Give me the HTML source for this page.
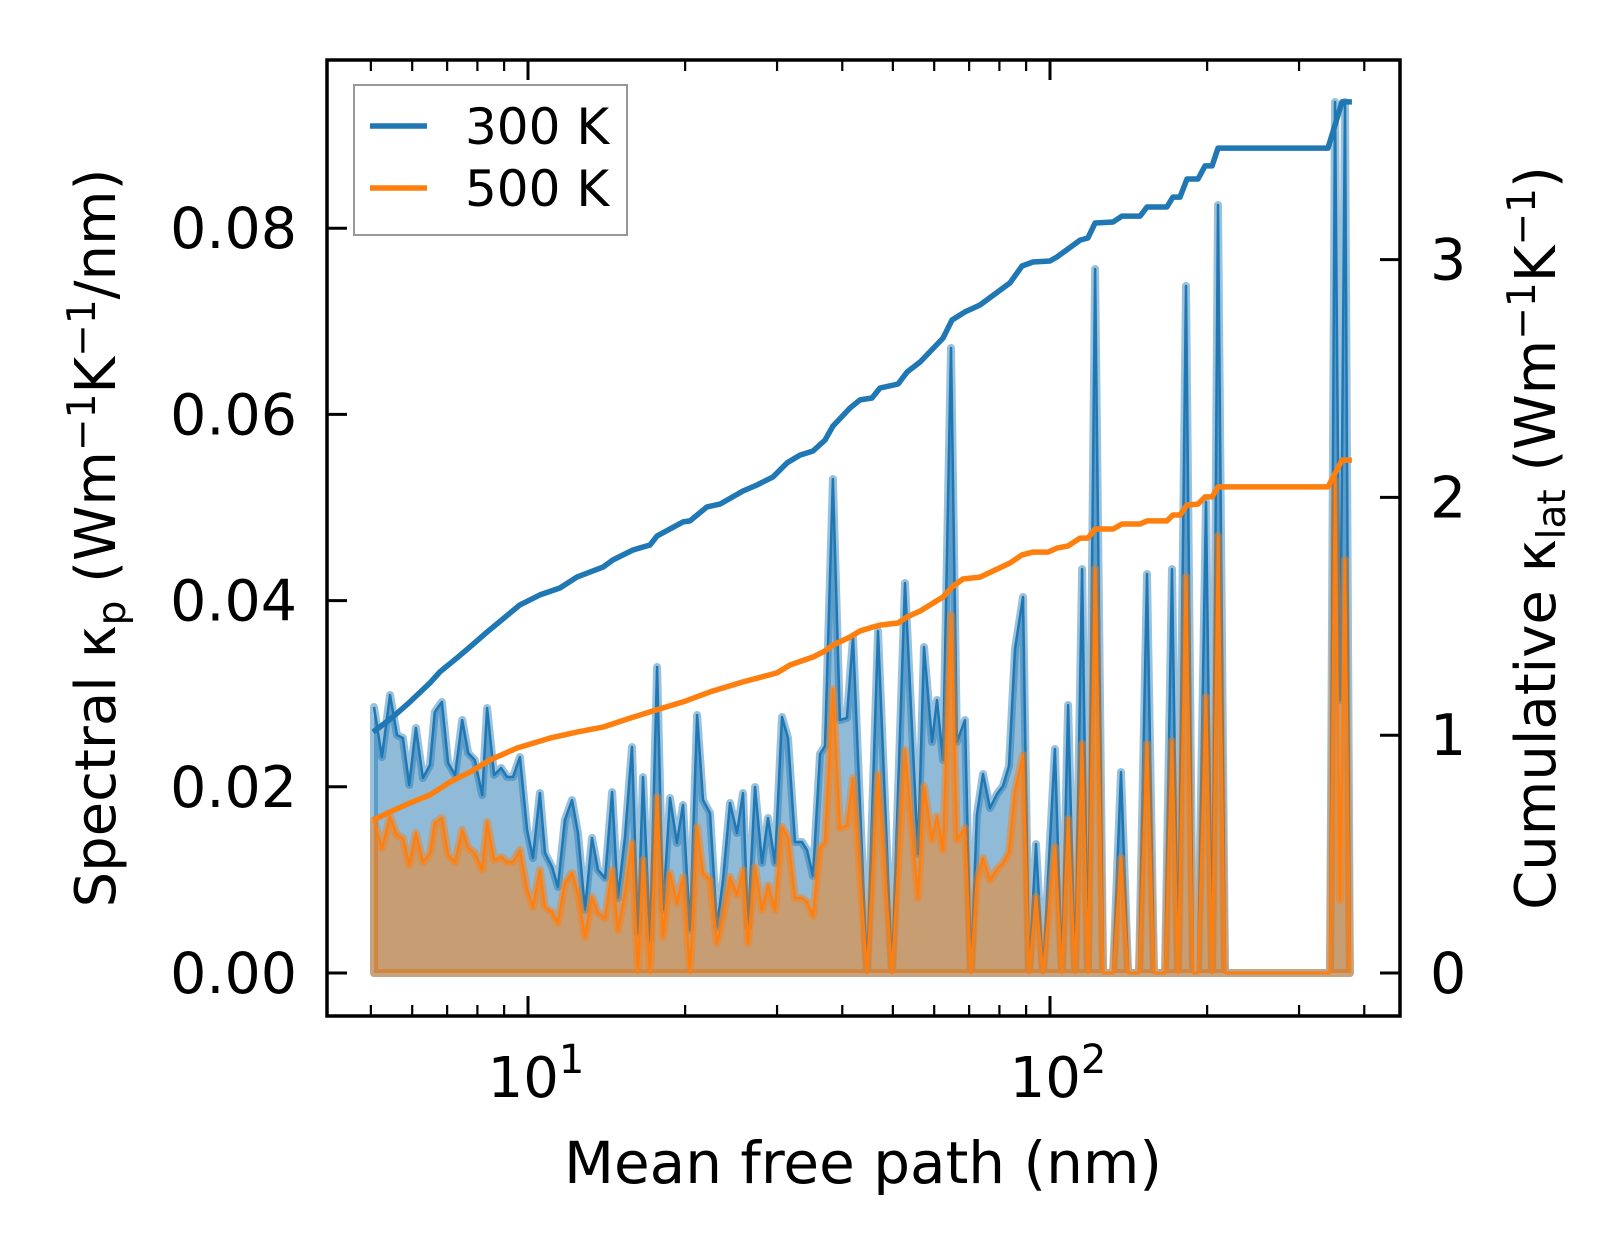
<!DOCTYPE html>
<html><head><meta charset="utf-8"><style>
html,body{margin:0;padding:0;background:#fff;}
svg{display:block;}
text{font-family:"DejaVu Sans","Liberation Sans",sans-serif;fill:#000;}
</style></head><body>
<svg id="chart" width="1623" height="1254" viewBox="0 0 1623 1254" xmlns="http://www.w3.org/2000/svg">
<defs><clipPath id="clip"><rect x="327" y="60" width="1073" height="956"/></clipPath></defs>
<g id="plot" clip-path="url(#clip)"></g>
<g id="axes"></g>
</svg>
<script>
const mfp=[5.07,5.25,5.44,5.61,5.76,5.92,6.10,6.29,6.49,6.63,6.84,7.03,7.25,7.48,7.68,7.91,8.17,8.35,8.61,8.88,9.12,9.36,9.65,9.96,10.22,10.54,10.78,11.12,11.41,11.77,12.14,12.47,12.86,13.26,13.62,14.05,14.49,14.87,15.34,15.82,16.24,16.61,17.13,17.67,18.14,18.71,19.29,19.81,20.43,21.08,21.64,22.32,23.02,23.64,24.38,25.14,25.82,26.39,27.22,28.07,28.83,29.73,30.66,31.48,32.47,33.49,34.24,35.16,36.26,37.07,38.38,39.59,40.83,41.93,44.61,46.83,49.82,52.76,55.87,57.37,59.43,60.76,62.37,64.61,66.33,68.72,70.56,72.45,74.40,76.74,79.14,81.28,83.47,85.70,88.78,91.16,94.01,96.96,102.2,105.4,108.3,111.7,115.2,118.2,122.0,126.4,132.1,136.8,141.1,148.1,153.4,158.2,166.1,171.3,175.9,182.2,187.9,192.1,199.0,204.4,209.8,216.4,343.9,351.6,359.4,367.4,375.5];
const spec300=[0.02857,0.0232,0.02986,0.02556,0.02524,0.0202,0.02632,0.02095,0.02234,0.02803,0.02911,0.02256,0.02127,0.02718,0.02363,0.02288,0.01912,0.02846,0.02127,0.02202,0.02105,0.02105,0.0232,0.01536,0.01235,0.01933,0.01289,0.01139,0.00924,0.01643,0.01858,0.01504,0.00677,0.0145,0.01106,0.0102,0.01944,0.00806,0.01461,0.02427,0.0043,0.02105,0.00354,0.03287,0.00677,0.0188,0.01396,0.01805,0.00462,0.02771,0.01858,0.01719,0.00494,0.00999,0.01826,0.01504,0.01933,0.00494,0.01998,0.01182,0.01665,0.01182,0.0275,0.02524,0.01407,0.01407,0.01321,0.01042,0.02352,0.02438,0.05306,0.02718,0.02739,0.03609,0,0.03673,0,0.04189,0.01278,0.03502,0.02481,0.02932,0.02288,0.06713,0.02481,0.02718,0,0.01697,0.02137,0.01772,0.01923,0.02009,0.02223,0.0348,0.04039,0,0.01386,0,0.02406,0,0.02879,0,0.04339,0,0.07562,0,0,0.02159,0,0,0.04286,0,0,0.04339,0,0.07379,0,0,0.05059,0,0.08249,0,0,0.09356,0.02932,0.09356,0];
const spec500=[0.01643,0.01343,0.01676,0.01482,0.0145,0.0116,0.01504,0.01192,0.01289,0.01611,0.01665,0.01267,0.01192,0.01536,0.01343,0.01289,0.01106,0.01622,0.01214,0.01246,0.01192,0.01192,0.01321,0.00892,0.00709,0.01106,0.00709,0.00655,0.00537,0.00967,0.01074,0.00859,0.00387,0.00816,0.00644,0.00591,0.01106,0.00462,0.00859,0.01396,0,0.01214,0,0.0189,0.00387,0.01074,0.00752,0.01031,0,0.01568,0.01074,0.00999,0.00322,0.00602,0.01031,0.00838,0.01106,0.00322,0.01139,0.00677,0.00945,0.00677,0.01568,0.01461,0.00806,0.00806,0.00763,0.00612,0.01343,0.01407,0.0305,0.01557,0.01579,0.02095,0,0.02137,0,0.02395,0.00806,0.02009,0.01429,0.01686,0.01321,0.03845,0.01429,0.01557,0,0.00999,0.01235,0.00999,0.01117,0.01182,0.013,0.01955,0.02342,0,0.00816,0,0.01353,0,0.01654,0,0.0246,0,0.04339,0,0,0.01235,0,0,0.0246,0,0,0.02492,0,0.04254,0,0,0.02965,0,0.04694,0,0,0.05295,0.00784,0.04436,0];
const cumMfp300=[5.05,5.51,5.94,6.49,6.78,7.31,7.74,8.35,9.65,10.54,11.51,12.41,13.92,14.55,15.89,17.13,17.67,19.81,20.43,22.02,23.32,25.82,27.46,29.47,31.34,33.19,35.16,37.07,38.38,41.38,43.25,45.60,47.24,51.16,53.22,56.36,62.37,64.90,68.72,73.42,83.84,88.40,92.77,100,103.1,108.3,114.2,118.2,122.0,132.1,137.4,148.8,153.4,167.5,172.0,177.4,183.0,192.1,198.1,204.4,209.8,340.9,362.6,378.8];
const cum300=[1.013,1.077,1.140,1.220,1.266,1.325,1.371,1.434,1.548,1.590,1.619,1.665,1.707,1.737,1.779,1.800,1.838,1.897,1.901,1.960,1.972,2.027,2.052,2.086,2.145,2.178,2.195,2.241,2.300,2.376,2.410,2.418,2.460,2.477,2.527,2.569,2.670,2.746,2.780,2.809,2.902,2.973,2.990,2.994,3.011,3.045,3.082,3.091,3.154,3.158,3.183,3.183,3.221,3.221,3.263,3.263,3.339,3.339,3.394,3.394,3.469,3.469,3.663,3.663];
const cumMfp500=[5.05,5.44,5.94,6.49,7.09,7.74,8.46,9.53,11.02,12.41,13.92,15.69,17.13,19.81,22.32,25.82,29.99,31.76,35.16,37.07,38.38,41.38,43.25,45.80,47.24,51.16,53.22,56.36,62.37,64.90,68.11,73.42,83.84,88.40,92.77,99.1,103.1,108.3,114.2,118.2,122.0,132.1,137.4,148.8,153.4,167.5,172.0,177.4,183.0,192.1,198.1,204.4,209.8,340.9,362.6,378.8];
const cum500=[0.643,0.677,0.715,0.749,0.803,0.845,0.896,0.946,0.988,1.013,1.034,1.072,1.098,1.140,1.182,1.224,1.262,1.295,1.329,1.354,1.379,1.413,1.438,1.455,1.463,1.472,1.497,1.522,1.581,1.623,1.657,1.665,1.724,1.758,1.770,1.770,1.787,1.796,1.829,1.829,1.867,1.867,1.888,1.888,1.901,1.901,1.926,1.926,1.968,1.972,2.002,2.002,2.044,2.044,2.157,2.157];
const leftTicks=[0,0.02,0.04,0.06,0.08];
const leftTickLabels=["0.00","0.02","0.04","0.06","0.08"];
const rightTicks=[0,1,2,3];
const xMajor=[10,100];
const xMajorExp=["1","2"];
const xMinor=[5,6,7,8,9,20,30,40,50,60,70,80,90,200,300,400];

const NS="http://www.w3.org/2000/svg";
const L=327,R=1400,T=60,B=1016;
const X=v=>528+522*(Math.log10(v)-1);
const YL=v=>973-v*9310;
const YR=v=>973-v*237.8;
function mk(tag,attrs,parent){const e=document.createElementNS(NS,tag);for(const k in attrs)e.setAttribute(k,attrs[k]);parent.appendChild(e);return e;}
const plot=document.getElementById('plot'),axes=document.getElementById('axes');

function area(vals,color,name){
  let d=`M${X(mfp[0])},${YL(0)}`;
  vals.forEach((v,i)=>{d+=` L${X(mfp[i]).toFixed(1)},${YL(v).toFixed(1)}`;});
  d+=` L${X(mfp[mfp.length-1])},${YL(0)} Z`;
  const f=mk('path',{d:d,fill:color,'fill-opacity':0.5,stroke:color,'stroke-opacity':0.45,'stroke-width':8,'stroke-linejoin':'round'},plot);
  
  
  let d2='';
  vals.forEach((v,i)=>{d2+=(i?' L':'M')+X(mfp[i]).toFixed(1)+','+YL(v).toFixed(1);});
  const l=mk('path',{d:d2,fill:'none',stroke:color,'stroke-width':2.5,'stroke-linejoin':'round'},plot);
  
  
}
area(spec300,'#1f77b4','spectral-300k');
area(spec500,'#ff7f0e','spectral-500k');
function cum(xs,vals,color,name){
  let d='';
  vals.forEach((v,i)=>{d+=(i?' L':'M')+X(xs[i]).toFixed(1)+','+YR(v).toFixed(1);});
  const l=mk('path',{d:d,fill:'none',stroke:color,'stroke-width':5.5,'stroke-linejoin':'round'},plot);
  
  
}
cum(cumMfp300,cum300,'#1f77b4','cumulative-300k-line');
cum(cumMfp500,cum500,'#ff7f0e','cumulative-500k-line');

const fr=mk('rect',{x:L,y:T,width:R-L,height:B-T,fill:'none',stroke:'#000','stroke-width':3.5},axes);


leftTicks.forEach((v,i)=>{
  const y=YL(v);
  const t=mk('line',{x1:L,x2:L+20,y1:y,y2:y,stroke:'#000','stroke-width':3},axes);
  
  
  const tx=mk('text',{x:297,y:y+20,'text-anchor':'end','font-size':57},axes);
  tx.textContent=leftTickLabels[i];
  
  
});
rightTicks.forEach(v=>{
  const y=YR(v);
  const t=mk('line',{x1:R-20,x2:R,y1:y,y2:y,stroke:'#000','stroke-width':3},axes);
  
  
  const tx=mk('text',{x:1430,y:y+20,'font-size':57},axes);
  tx.textContent=String(v);
  
  
});
xMajor.forEach((v,i)=>{
  const x=X(v);
  [[B,B-20],[T,T+20]].forEach(p=>{
    const t=mk('line',{x1:x,x2:x,y1:p[0],y2:p[1],stroke:'#000','stroke-width':3},axes);
    
    
  });
  const tx=mk('text',{x:x+8,y:1097,'text-anchor':'middle','font-size':56},axes);
  tx.textContent='10';
  const s=mk('tspan',{dy:-24,'font-size':40},tx);
  s.textContent=xMajorExp[i];
  
  
});
xMinor.forEach(v=>{
  const x=X(v);
  [[B,B-11],[T,T+11]].forEach(p=>{
    const t=mk('line',{x1:x,x2:x,y1:p[0],y2:p[1],stroke:'#000','stroke-width':2.2},axes);
    
    
  });
});
</script>
<svg style="position:absolute;left:0;top:0" width="1623" height="1254">
<text x="863" y="1183" text-anchor="middle" font-size="58">Mean free path (nm)</text>
<text transform="translate(115,538) rotate(-90)" text-anchor="middle" font-size="56">Spectral κ<tspan font-size="39" dy="10">p</tspan><tspan dy="-10"> (Wm</tspan><tspan font-size="39" dy="-20">−1</tspan><tspan dy="20">K</tspan><tspan font-size="39" dy="-20">−1</tspan><tspan dy="20">/nm)</tspan></text>
<text transform="translate(1555,538) rotate(-90)" text-anchor="middle" font-size="56">Cumulative κ<tspan font-size="39" dy="10">lat</tspan><tspan dy="-10"> (Wm</tspan><tspan font-size="39" dy="-20">−1</tspan><tspan dy="20">K</tspan><tspan font-size="39" dy="-20">−1</tspan><tspan dy="20">)</tspan></text>
<g>
<rect x="354" y="85" width="273" height="150" fill="#fff" fill-opacity="0.8" stroke="#999" stroke-width="2"/>
<line x1="370" x2="427" y1="126" y2="126" stroke="#1f77b4" stroke-width="5.5"/>
<text x="465" y="144" font-size="50">300 K</text>
<line x1="370" x2="427" y1="188" y2="188" stroke="#ff7f0e" stroke-width="5.5"/>
<text x="465" y="206" font-size="50">500 K</text>
</g>
</svg>
</body></html>
